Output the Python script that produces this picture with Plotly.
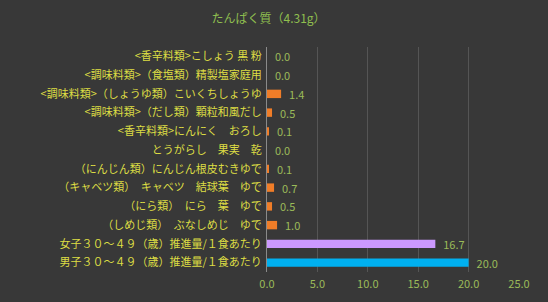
import plotly.graph_objects as go

categories = [
    "<香辛料類>こしょう 黒 粉",
    "<調味料類>（食塩類）精製塩家庭用",
    "<調味料類>（しょうゆ類）こいくちしょうゆ",
    "<調味料類>（だし類）顆粒和風だし",
    "<香辛料類>にんにく　おろし",
    "とうがらし　果実　乾",
    "（にんじん類）にんじん根皮むきゆで",
    "（キャベツ類）　キャベツ　結球葉　ゆで",
    "（にら類）　にら　葉　ゆで",
    "（しめじ類）　ぶなしめじ　ゆで",
    "女子３０～４９（歳）推進量/１食あたり",
    "男子３０～４９（歳）推進量/１食あたり",
]
values = [0.0, 0.0, 1.4, 0.5, 0.1, 0.0, 0.1, 0.7, 0.5, 1.0, 16.7, 20.0]
colors = ["#F07D28"] * 10 + ["#CC99FF", "#00B0F0"]
tick_vals = [0, 5, 10, 15, 20, 25]
tick_text = ["0.0", "5.0", "10.0", "15.0", "20.0", "25.0"]
title = "たんぱく質（4.31g）"

font = "Noto Sans CJK JP"

fig = go.Figure(go.Bar(
    x=values,
    y=categories,
    orientation="h",
    marker=dict(color=colors, line=dict(width=0)),
    width=0.45,
    text=[f"  {v:.1f}" for v in values],
    textposition="outside",
    constraintext="none",
    textfont=dict(color="#9BBB59", size=11, family=font),
    cliponaxis=False,
))

fig.update_layout(
    width=548, height=302,
    margin=dict(l=267, r=29, t=47, b=30),
    paper_bgcolor="#383838",
    plot_bgcolor="rgba(0,0,0,0)",
    title=dict(text=title, x=0.49, xanchor="center", y=0.937, yanchor="middle",
               font=dict(color="#8FBF4F", size=12, family=font)),
    showlegend=False,
    xaxis=dict(range=[0, 25], tickvals=tick_vals, ticktext=tick_text,
               showgrid=True, gridcolor="#555555", gridwidth=1,
               zeroline=False, showline=False,
               tickfont=dict(color="#9BBB59", size=11, family=font),
               ticks="", ticklabelstandoff=4),
    yaxis=dict(autorange="reversed", showgrid=False,
               showline=True, linecolor="#8a8a8a", linewidth=1,
               tickfont=dict(color="#DDDD44", size=11, family=font),
               ticks="", ticklabelstandoff=2),
    bargap=0.5,
)

fig.write_html("out.html")
